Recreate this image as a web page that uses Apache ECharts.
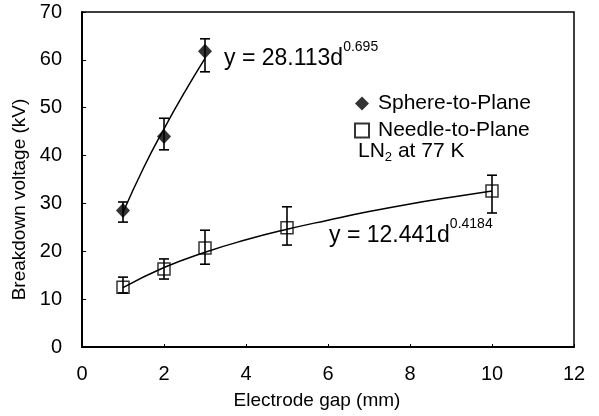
<!DOCTYPE html>
<html><head><meta charset="utf-8">
<script src="https://cdn.jsdelivr.net/npm/echarts@6/dist/echarts.min.js"></script>
<style>html,body{margin:0;padding:0;background:#fff}#c{width:599px;height:416px}</style>
</head><body><div id="c"></div>
<script>
// Electrode gap (mm)
const sphereGap = [1, 2, 3];
const sphereV = [28.5, 44.0, 61.8];
const sphereLo = [26.1, 41.2, 57.5];
const sphereHi = [30.3, 47.8, 64.4];
// power-law trendline as drawn in the picture
const sphereFitX = [1, 1.5, 2, 2.5, 3];
const sphereFitY = [28.1, 37.4, 45.6, 53.2, 60.3];

const needleGap = [1, 2, 3, 5, 10];
const needleV = [12.5, 16.3, 20.7, 24.9, 32.6];
const needleLo = [11.3, 14.2, 17.3, 21.3, 28.0];
const needleHi = [14.6, 18.4, 24.4, 29.3, 35.9];
const needleFitX = [1, 2, 3, 4, 5, 6, 7, 8, 9, 10];
const needleFitY = [12.4, 16.6, 19.8, 22.4, 24.6, 26.5, 28.3, 29.9, 31.3, 32.6];

const seriesNames = ['Sphere-to-Plane', 'Needle-to-Plane'];
const xTicks = [0, 2, 4, 6, 8, 10, 12];
const yTicks = [0, 10, 20, 30, 40, 50, 60, 70];

const FONT = "'Liberation Sans', Arial, sans-serif";
const zip = (a, b) => a.map((v, i) => [v, b[i]]);

function errSeries(xs, lo, hi) {
  return {
    type: 'custom', silent: true, z: 3,
    data: xs.map((x, i) => [x, lo[i], hi[i]]),
    renderItem(params, api) {
      const x = api.value(0);
      const a = api.coord([x, api.value(1)]);
      const b = api.coord([x, api.value(2)]);
      const w = 5;
      const st = { stroke: '#000', lineWidth: 1.6 };
      return { type: 'group', children: [
        { type: 'line', shape: { x1: a[0], y1: a[1], x2: b[0], y2: b[1] }, style: st },
        { type: 'line', shape: { x1: a[0] - w, y1: a[1], x2: a[0] + w, y2: a[1] }, style: st },
        { type: 'line', shape: { x1: b[0] - w, y1: b[1], x2: b[0] + w, y2: b[1] }, style: st }
      ]};
    }
  };
}

const chart = echarts.init(document.getElementById('c'));
chart.setOption({
  animation: false,
  backgroundColor: '#fff',
  textStyle: { fontFamily: FONT, color: '#000' },
  grid: { left: 82, right: 25, top: 12, bottom: 69, show: true, borderColor: '#000', borderWidth: 1.5, backgroundColor: 'transparent' },
  xAxis: {
    type: 'value', min: xTicks[0], max: xTicks[xTicks.length - 1], interval: 2,
    name: 'Electrode gap (mm)', nameLocation: 'middle', nameGap: 44,
    nameTextStyle: { fontSize: 19, color: '#000', fontFamily: FONT, padding: [0, 22, 0, 0] },
    axisLine: { lineStyle: { color: '#000', width: 2 } },
    axisTick: { show: true, inside: true, length: 3, lineStyle: { color: '#000' } },
    axisLabel: { fontSize: 20, color: '#000', margin: 17, fontFamily: FONT },
    splitLine: { show: false }
  },
  yAxis: {
    type: 'value', min: yTicks[0], max: yTicks[yTicks.length - 1], interval: 10,
    name: 'Breakdown voltage (kV)', nameLocation: 'middle', nameGap: 37, nameRotate: 90,
    nameTextStyle: { fontSize: 19, color: '#000', fontFamily: FONT, padding: [0, 40, 0, 0] },
    axisLine: { lineStyle: { color: '#000', width: 2 } },
    axisTick: { show: true, inside: true, length: 4, lineStyle: { color: '#000' } },
    axisLabel: { fontSize: 20, color: '#000', margin: 20, fontFamily: FONT },
    splitLine: { show: false }
  },
  legend: {
    data: seriesNames, orient: 'vertical', left: 349, top: 88,
    itemWidth: 14, itemHeight: 14, itemGap: 6,
    textStyle: { fontSize: 21, color: '#000', fontFamily: FONT, padding: [0, 0, 0, 4] }
  },
  graphic: [
    { type: 'text', left: 358, top: 141, style: {
      text: '{n|LN}{s|2}{n| at 77 K}',
      rich: { n: { fontSize: 21, fontFamily: FONT, fill: '#000', lineHeight: 24 },
              s: { fontSize: 13, fontFamily: FONT, fill: '#000', verticalAlign: 'bottom', lineHeight: 13 } } } },
    { type: 'text', left: 224, top: 40, style: {
      text: '{n|y = 28.113d}{p|0.695}',
      rich: { n: { fontSize: 23, fontFamily: FONT, fill: '#000', lineHeight: 30, verticalAlign: 'bottom' },
              p: { fontSize: 14, fontFamily: FONT, fill: '#000', verticalAlign: 'top', lineHeight: 14 } } } },
    { type: 'text', left: 329, top: 217, style: {
      text: '{n|y = 12.441d}{p|0.4184}',
      rich: { n: { fontSize: 23, fontFamily: FONT, fill: '#000', lineHeight: 30, verticalAlign: 'bottom' },
              p: { fontSize: 14, fontFamily: FONT, fill: '#000', verticalAlign: 'top', lineHeight: 14 } } } }
  ],
  series: [
    { name: 'sphereFit', type: 'line', data: zip(sphereFitX, sphereFitY), smooth: true, symbol: 'none', silent: true,
      lineStyle: { color: '#000', width: 1.5 }, z: 2 },
    { name: 'needleFit', type: 'line', data: zip(needleFitX, needleFitY), smooth: true, symbol: 'none', silent: true,
      lineStyle: { color: '#000', width: 1.5 }, z: 2 },
    errSeries(sphereGap, sphereLo, sphereHi),
    errSeries(needleGap, needleLo, needleHi),
    { name: seriesNames[0], type: 'scatter', data: zip(sphereGap, sphereV), symbol: 'diamond', symbolSize: [14, 15],
      itemStyle: { color: '#000' }, z: 4 },
    { name: seriesNames[1], type: 'scatter', data: zip(needleGap, needleV), symbol: 'rect', symbolSize: 12,
      itemStyle: { color: 'rgba(255,255,255,0)', borderColor: '#000', borderWidth: 1.5 }, z: 4 }
  ]
});
</script></body></html>
